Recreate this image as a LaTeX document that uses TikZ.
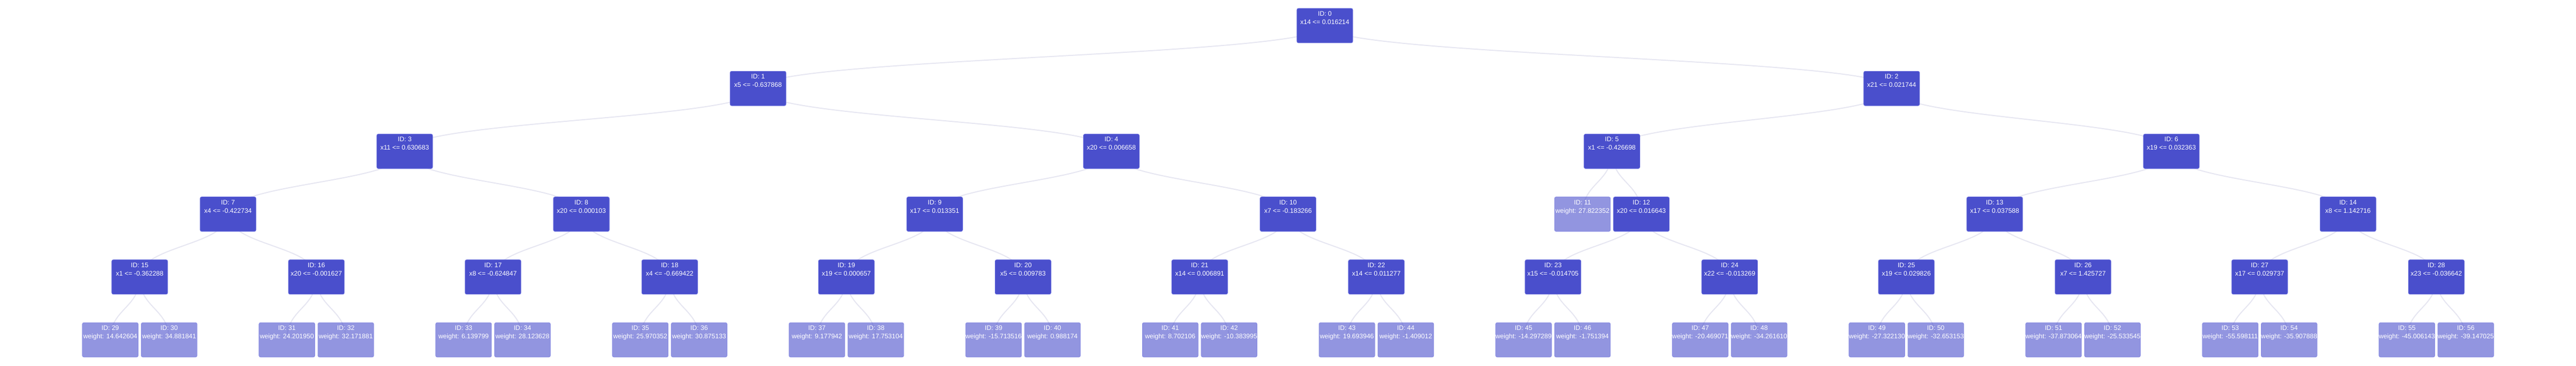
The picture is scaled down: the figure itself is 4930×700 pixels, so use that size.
\documentclass[tikz,border=0pt]{standalone}
\usepackage{fontspec}
\setmainfont{Liberation Sans}
\usepackage{xcolor}
\usepackage{tikz}
\usetikzlibrary{calc,backgrounds}
\definecolor{splitblue}{HTML}{4A4FCC}
\definecolor{splitrim}{HTML}{6B70DE}
\definecolor{linkgrey}{HTML}{E6E6F1}
\tikzstyle{split}=[rectangle,rounded corners=3pt,inner sep=0pt,fill=splitblue,draw=splitrim,line width=0.8pt,text=white]
\tikzstyle{leaf}=[split,fill opacity=0.6,draw opacity=0.6,text opacity=1]
\tikzstyle{link}=[draw=linkgrey,line width=2pt]
\newcommand{\boxtext}[2]{\parbox[c][66pt][t]{107pt}{\makebox[107pt]{\rule{0pt}{14.5pt}ID: #1}\\\makebox[107pt]{#2}}}
\newcommand{\branch}[2]{\draw[link] (#1.center) .. controls ($(#1.center)!0.5!(#1.center|-#2.center)$) and ($(#2.center)!0.5!(#2.center|-#1.center)$) .. (#2.center);}
\begin{document}
\begin{tikzpicture}[x=112.7pt,y=-120.2pt,font=\fontsize{12.5pt}{16pt}\selectfont]
\useasboundingbox (-2535.5pt,49pt) rectangle (2394.5pt,-651pt);
\node[split](n0)at (0,0){\boxtext{0}{x14 <= 0.016214}};
\node[split](n1)at (-9.625,1){\boxtext{1}{x5 <= -0.637868}};
\node[split](n2)at (9.625,1){\boxtext{2}{x21 <= 0.021744}};
\node[split](n3)at (-15.625,2){\boxtext{3}{x11 <= 0.630683}};
\node[split](n4)at (-3.625,2){\boxtext{4}{x20 <= 0.006658}};
\node[split](n5)at (4.875,2){\boxtext{5}{x1 <= -0.426698}};
\node[split](n6)at (14.375,2){\boxtext{6}{x19 <= 0.032363}};
\node[split](n7)at (-18.625,3){\boxtext{7}{x4 <= -0.422734}};
\node[split](n8)at (-12.625,3){\boxtext{8}{x20 <= 0.000103}};
\node[split](n9)at (-6.625,3){\boxtext{9}{x17 <= 0.013351}};
\node[split](n10)at (-0.625,3){\boxtext{10}{x7 <= -0.183266}};
\node[leaf](n11)at (4.375,3){\boxtext{11}{weight: 27.822352}};
\node[split](n12)at (5.375,3){\boxtext{12}{x20 <= 0.016643}};
\node[split](n13)at (11.375,3){\boxtext{13}{x17 <= 0.037588}};
\node[split](n14)at (17.375,3){\boxtext{14}{x8 <= 1.142716}};
\node[split](n15)at (-20.125,4){\boxtext{15}{x1 <= -0.362288}};
\node[split](n16)at (-17.125,4){\boxtext{16}{x20 <= -0.001627}};
\node[split](n17)at (-14.125,4){\boxtext{17}{x8 <= -0.624847}};
\node[split](n18)at (-11.125,4){\boxtext{18}{x4 <= -0.669422}};
\node[split](n19)at (-8.125,4){\boxtext{19}{x19 <= 0.000657}};
\node[split](n20)at (-5.125,4){\boxtext{20}{x5 <= 0.009783}};
\node[split](n21)at (-2.125,4){\boxtext{21}{x14 <= 0.006891}};
\node[split](n22)at (0.875,4){\boxtext{22}{x14 <= 0.011277}};
\node[split](n23)at (3.875,4){\boxtext{23}{x15 <= -0.014705}};
\node[split](n24)at (6.875,4){\boxtext{24}{x22 <= -0.013269}};
\node[split](n25)at (9.875,4){\boxtext{25}{x19 <= 0.029826}};
\node[split](n26)at (12.875,4){\boxtext{26}{x7 <= 1.425727}};
\node[split](n27)at (15.875,4){\boxtext{27}{x17 <= 0.029737}};
\node[split](n28)at (18.875,4){\boxtext{28}{x23 <= -0.036642}};
\node[leaf](n29)at (-20.625,5){\boxtext{29}{weight: 14.642604}};
\node[leaf](n30)at (-19.625,5){\boxtext{30}{weight: 34.881841}};
\node[leaf](n31)at (-17.625,5){\boxtext{31}{weight: 24.201950}};
\node[leaf](n32)at (-16.625,5){\boxtext{32}{weight: 32.171881}};
\node[leaf](n33)at (-14.625,5){\boxtext{33}{weight: 6.139799}};
\node[leaf](n34)at (-13.625,5){\boxtext{34}{weight: 28.123628}};
\node[leaf](n35)at (-11.625,5){\boxtext{35}{weight: 25.970352}};
\node[leaf](n36)at (-10.625,5){\boxtext{36}{weight: 30.875133}};
\node[leaf](n37)at (-8.625,5){\boxtext{37}{weight: 9.177942}};
\node[leaf](n38)at (-7.625,5){\boxtext{38}{weight: 17.753104}};
\node[leaf](n39)at (-5.625,5){\boxtext{39}{weight: -15.713516}};
\node[leaf](n40)at (-4.625,5){\boxtext{40}{weight: 0.988174}};
\node[leaf](n41)at (-2.625,5){\boxtext{41}{weight: 8.702106}};
\node[leaf](n42)at (-1.625,5){\boxtext{42}{weight: -10.383995}};
\node[leaf](n43)at (0.375,5){\boxtext{43}{weight: 19.693946}};
\node[leaf](n44)at (1.375,5){\boxtext{44}{weight: -1.409012}};
\node[leaf](n45)at (3.375,5){\boxtext{45}{weight: -14.297289}};
\node[leaf](n46)at (4.375,5){\boxtext{46}{weight: -1.751394}};
\node[leaf](n47)at (6.375,5){\boxtext{47}{weight: -20.469071}};
\node[leaf](n48)at (7.375,5){\boxtext{48}{weight: -34.261610}};
\node[leaf](n49)at (9.375,5){\boxtext{49}{weight: -27.322130}};
\node[leaf](n50)at (10.375,5){\boxtext{50}{weight: -32.653153}};
\node[leaf](n51)at (12.375,5){\boxtext{51}{weight: -37.873064}};
\node[leaf](n52)at (13.375,5){\boxtext{52}{weight: -25.533545}};
\node[leaf](n53)at (15.375,5){\boxtext{53}{weight: -55.598111}};
\node[leaf](n54)at (16.375,5){\boxtext{54}{weight: -35.907888}};
\node[leaf](n55)at (18.375,5){\boxtext{55}{weight: -45.006143}};
\node[leaf](n56)at (19.375,5){\boxtext{56}{weight: -39.147025}};
\begin{pgfonlayer}{background}
\branch{n0}{n1} \branch{n0}{n2}
\branch{n1}{n3} \branch{n1}{n4}
\branch{n2}{n5} \branch{n2}{n6}
\branch{n3}{n7} \branch{n3}{n8}
\branch{n4}{n9} \branch{n4}{n10}
\branch{n5}{n11} \branch{n5}{n12}
\branch{n6}{n13} \branch{n6}{n14}
\branch{n7}{n15} \branch{n7}{n16}
\branch{n8}{n17} \branch{n8}{n18}
\branch{n9}{n19} \branch{n9}{n20}
\branch{n10}{n21} \branch{n10}{n22}
\branch{n12}{n23} \branch{n12}{n24}
\branch{n13}{n25} \branch{n13}{n26}
\branch{n14}{n27} \branch{n14}{n28}
\branch{n15}{n29} \branch{n15}{n30}
\branch{n16}{n31} \branch{n16}{n32}
\branch{n17}{n33} \branch{n17}{n34}
\branch{n18}{n35} \branch{n18}{n36}
\branch{n19}{n37} \branch{n19}{n38}
\branch{n20}{n39} \branch{n20}{n40}
\branch{n21}{n41} \branch{n21}{n42}
\branch{n22}{n43} \branch{n22}{n44}
\branch{n23}{n45} \branch{n23}{n46}
\branch{n24}{n47} \branch{n24}{n48}
\branch{n25}{n49} \branch{n25}{n50}
\branch{n26}{n51} \branch{n26}{n52}
\branch{n27}{n53} \branch{n27}{n54}
\branch{n28}{n55} \branch{n28}{n56}
\end{pgfonlayer}
\end{tikzpicture}
\end{document}
